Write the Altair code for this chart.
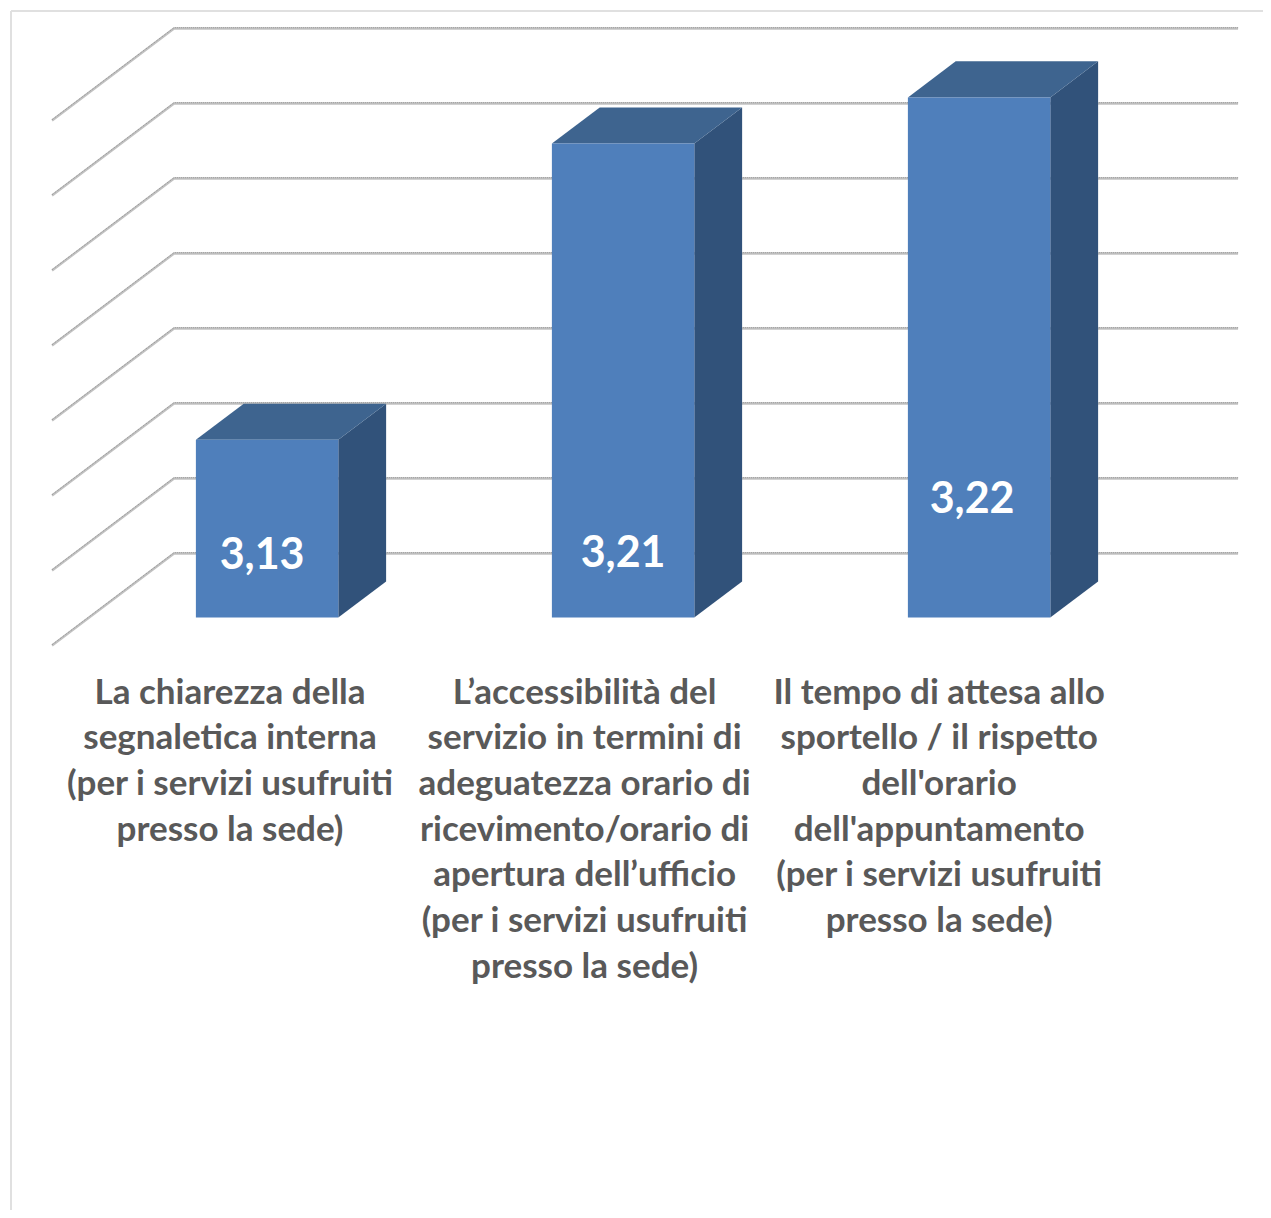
import altair as alt
import pandas as pd

# ---- values
CATEGORY_LINES = [
    ["La chiarezza della", "segnaletica interna", "(per i servizi usufruiti", "presso la sede)"],
    ["L\u2019accessibilit\u00e0 del", "servizio in termini di", "adeguatezza orario di", "ricevimento/orario di",
     "apertura dell\u2019ufficio", "(per i servizi usufruiti", "presso la sede)"],
    ["Il tempo di attesa allo", "sportello / il rispetto", "dell'orario", "dell'appuntamento",
     "(per i servizi usufruiti", "presso la sede)"],
]
VALUES = [3.1274, 3.2064, 3.2187]
VALUE_LABELS = ["3,13", "3,21", "3,22"]
GRID_VALUES = [3.08, 3.10, 3.12, 3.14, 3.16, 3.18, 3.20, 3.22]

# ---- layout of the oblique projection
W, H = 1255, 1202
PAGE = 8
CAT_PX, UNIT_PX = 356.0, 3750.0
ORIGIN_X, ORIGIN_Y = 52.0, 645.5
DEPTH_X, DEPTH_Y = 122.0, 92.0
BASE = GRID_VALUES[0]
BAR_WIDTH = 0.4
Z_FRONT, Z_BACK = 0.304, 0.696
LABEL_SHIFT = [(-5, 116), (0, 410), (-7, 403)]  # label centre vs. bar centre / top, px
LINE_STEP, FIRST_LINE = 45.7, 47.0
GRID_END = 2.989
CAT_LABEL_STEP = 0.996


def px(cat, z=0.0):
    return cat + z * DEPTH_X / CAT_PX


def py(val, z=0.0):
    return val + z * DEPTH_Y / UNIT_PX


x_scale = alt.Scale(domain=[(PAGE - ORIGIN_X) / CAT_PX, (PAGE + W - ORIGIN_X) / CAT_PX], range=[0, W])
y_scale = alt.Scale(domain=[BASE - (PAGE + H - ORIGIN_Y) / UNIT_PX, BASE + (ORIGIN_Y - PAGE) / UNIT_PX], range=[H, 0])
X = lambda f: alt.X(f, type="quantitative", scale=x_scale, axis=None)
Y = lambda f: alt.Y(f, type="quantitative", scale=y_scale, axis=None)

# gridlines on side and back walls
grid_rows = []
for g in GRID_VALUES:
    for i, (c, z) in enumerate([(0, 0), (0, 1), (GRID_END, 1)]):
        grid_rows.append({"g": g, "o": i, "x": px(c, z), "y": py(g, z)})
grid_df = pd.DataFrame(grid_rows)
grid = alt.Chart(grid_df).mark_line(color="#c2c2c2", strokeWidth=2.4).encode(
    x=X("x"), y=Y("y"), detail="g:N", order="o:Q")
grid_fine = alt.Chart(grid_df).mark_line(color="#8a8a8a", strokeWidth=0.9, strokeDash=[1, 1], yOffset=-0.8).encode(
    x=X("x"), y=Y("y"), detail="g:N", order="o:Q")

# bars: front, top, side faces
front_rows, top_rows, side_rows, label_rows = [], [], [], []
for i, v in enumerate(VALUES):
    l, r = i + 0.5 - BAR_WIDTH / 2, i + 0.5 + BAR_WIDTH / 2
    front_rows.append({"x": px(l, Z_FRONT), "x2": px(r, Z_FRONT), "y": py(BASE, Z_FRONT), "y2": py(v, Z_FRONT)})
    for z in (Z_FRONT, Z_BACK):
        top_rows.append({"b": i, "y": py(v, z), "x": px(l, z), "x2": px(r, z)})
        side_rows.append({"b": i, "x": px(r, z), "y": py(BASE, z), "y2": py(v, z)})
    dx, dy = LABEL_SHIFT[i]
    label_rows.append({"x": px(i + 0.5, Z_FRONT) + dx / CAT_PX, "y": py(v, Z_FRONT) - dy / UNIT_PX, "t": VALUE_LABELS[i]})

front = alt.Chart(pd.DataFrame(front_rows)).mark_rect(color="#4f7fbb").encode(
    x=X("x"), x2="x2:Q", y=Y("y"), y2="y2:Q")
top = alt.Chart(pd.DataFrame(top_rows)).mark_area(orient="horizontal", color="#3e648f").encode(
    y=Y("y"), x=X("x"), x2="x2:Q", detail="b:N")
side = alt.Chart(pd.DataFrame(side_rows)).mark_area(orient="vertical", color="#31527a").encode(
    x=X("x"), y=Y("y"), y2="y2:Q", detail="b:N")
labels = alt.Chart(pd.DataFrame(label_rows)).mark_text(
    font="Lato", fontWeight="bold", fontSize=43, color="white", align="center", baseline="middle").encode(
    x=X("x"), y=Y("y"), text="t:N")

# category labels
cat_rows = []
for i, lines in enumerate(CATEGORY_LINES):
    for j, s in enumerate(lines):
        cat_rows.append({"x": px(0.5 + i * CAT_LABEL_STEP), "y": BASE - (FIRST_LINE + j * LINE_STEP) / UNIT_PX, "t": s, "k": f"{i}-{j}"})
cats = alt.Chart(pd.DataFrame(cat_rows)).mark_text(
    font="Lato", fontWeight="bold", fontSize=35, color="#595959", align="center", baseline="middle").encode(
    x=X("x"), y=Y("y"), text="t:N", detail="k:N")

# thin frame around the picture
frame_top = alt.Chart(pd.DataFrame({"a": [0]})).mark_rule(color="#e0e0e0", strokeWidth=2).encode(
    x=alt.value(3), x2=alt.value(W), y=alt.value(3))
frame_left = alt.Chart(pd.DataFrame({"a": [0]})).mark_rule(color="#e0e0e0", strokeWidth=2).encode(
    x=alt.value(3), y=alt.value(3), y2=alt.value(H))

chart = alt.layer(
    frame_top, frame_left, grid, grid_fine, side, top, front, labels, cats
).properties(width=W, height=H, padding=0, autosize=alt.AutoSizeParams(type="none"), background="white"
).configure_view(stroke=None)

chart.save("out.html", embed_options={"renderer": "svg", "actions": False})
